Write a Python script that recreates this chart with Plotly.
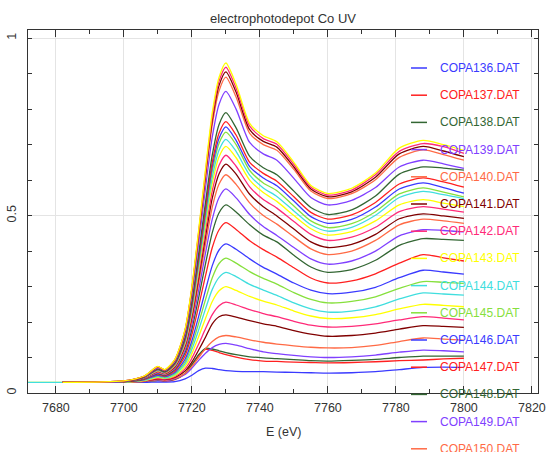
import plotly.graph_objects as go

# Energy grid (eV) shared by all spectra
energy = [7665, 7682, 7700, 7706, 7710, 7712, 7715, 7718, 7720, 7722, 7724, 7726, 7728, 7730,
          7733, 7737, 7741, 7745, 7750, 7755, 7760, 7767, 7774, 7781, 7788, 7794, 7800]

copa136 = [None, .030, .030, .030, .031, .031, .032, .040, .050, .063, .070, .069, .066, .063, .061, .060, .060, .059, .058, .057, .056, .057, .060, .066, .072, .073, .072]
copa137 = [None, .030, .031, .033, .036, .034, .038, .055, .080, .105, .123, .120, .114, .108, .101, .094, .090, .089, .087, .086, .085, .086, .088, .091, .093, .096, .098]
copa138 = [None, .030, .031, .033, .036, .035, .039, .055, .080, .108, .126, .124, .119, .114, .108, .102, .099, .097, .094, .091, .090, .092, .095, .100, .104, .104, .104]
copa139 = [None, .030, .031, .033, .037, .035, .040, .052, .070, .092, .112, .128, .137, .140, .135, .125, .116, .111, .106, .102, .100, .102, .107, .115, .121, .119, .116]
copa140 = [None, .030, .031, .033, .038, .036, .041, .055, .075, .100, .125, .145, .158, .162, .158, .150, .143, .138, .133, .129, .127, .128, .134, .145, .155, .152, .149]
copa141 = [None, .030, .031, .034, .040, .038, .044, .062, .087, .121, .157, .195, .215, .220, .214, .204, .195, .188, .176, .166, .160, .162, .169, .180, .190, .188, .185]
copa142 = [None, .030, .031, .034, .041, .039, .046, .068, .098, .138, .181, .221, .246, .256, .248, .235, .224, .215, .202, .191, .186, .188, .195, .206, .215, .211, .206]
copa143 = [.030, .030, .031, .035, .044, .041, .049, .075, .111, .159, .210, .258, .288, .300, .289, .272, .259, .248, .231, .217, .210, .212, .221, .237, .250, .247, .243]
copa144 = [.030, .030, .031, .036, .046, .042, .052, .082, .123, .178, .237, .292, .326, .340, .328, .306, .290, .275, .254, .237, .228, .231, .243, .265, .282, .279, .276]
copa145 = [None, .030, .031, .037, .048, .044, .055, .088, .135, .197, .263, .325, .365, .380, .366, .342, .323, .307, .283, .264, .254, .258, .271, .295, .314, .312, .309]
copa146 = [None, .030, .032, .038, .050, .046, .058, .095, .147, .216, .290, .359, .403, .420, .405, .378, .354, .335, .310, .290, .280, .284, .298, .325, .346, .341, .335]
copa147 = [None, .030, .032, .039, .053, .048, .062, .105, .165, .245, .330, .410, .460, .480, .461, .429, .404, .383, .353, .324, .310, .316, .336, .366, .390, .381, .372]
copa148 = [None, .030, .032, .040, .055, .050, .066, .114, .180, .269, .364, .452, .508, .530, .510, .474, .445, .426, .388, .355, .340, .348, .374, .416, .435, .433, .430]
copa149 = [None, .030, .032, .041, .057, .052, .069, .121, .194, .290, .394, .490, .551, .575, .550, .503, .469, .444, .410, .378, .363, .372, .400, .443, .460, .458, .454]
copa150 = [None, .030, .032, .042, .059, .053, .072, .128, .206, .310, .420, .524, .589, .615, .588, .536, .500, .476, .440, .406, .390, .400, .430, .474, .490, .485, .478]
copa151 = [None, .030, .032, .042, .061, .055, .074, .133, .215, .324, .440, .549, .618, .645, .617, .560, .525, .499, .462, .426, .410, .419, .447, .491, .505, .499, .492]
copa152 = [None, .030, .033, .043, .062, .056, .076, .137, .222, .336, .457, .570, .642, .670, .639, .581, .545, .521, .483, .447, .430, .439, .467, .511, .525, .518, .510]
copa153 = [None, .030, .033, .043, .063, .057, .078, .141, .230, .348, .474, .591, .666, .695, .663, .600, .565, .540, .500, .463, .445, .455, .485, .530, .545, .535, .525]
copa154 = [None, .030, .033, .044, .064, .057, .079, .144, .236, .357, .487, .608, .685, .715, .681, .614, .578, .554, .513, .474, .456, .467, .501, .551, .568, .559, .548]
copa155 = [None, .030, .033, .044, .065, .058, .081, .148, .242, .367, .500, .625, .704, .735, .700, .627, .592, .570, .527, .485, .466, .477, .511, .561, .578, .566, .553]
copa156 = [None, .030, .033, .044, .066, .059, .082, .150, .246, .374, .510, .638, .718, .750, .712, .638, .606, .584, .541, .497, .478, .489, .524, .575, .592, .579, .563]
copa157 = [None, .030, .033, .045, .067, .059, .083, .153, .251, .381, .520, .650, .733, .765, .727, .650, .619, .597, .553, .509, .490, .502, .537, .589, .606, .595, .580]
copa158 = [None, .030, .033, .045, .068, .060, .085, .157, .258, .393, .537, .671, .757, .790, .747, .667, .635, .615, .569, .523, .503, .516, .555, .617, .637, .634, .628]
copa159 = [None, .030, .033, .046, .071, .063, .089, .167, .276, .422, .577, .722, .814, .850, .800, .706, .674, .656, .605, .551, .530, .543, .579, .637, .656, .646, .633]
copa160 = [None, .030, .034, .047, .073, .064, .092, .174, .288, .441, .604, .756, .852, .890, .834, .732, .700, .684, .630, .569, .548, .562, .601, .664, .685, .672, .656]
copa161 = [None, .030, .034, .047, .074, .065, .093, .176, .293, .448, .614, .769, .867, .905, .848, .742, .709, .693, .637, .575, .553, .567, .608, .674, .695, .682, .666]
copa162 = [None, .030, .034, .048, .074, .065, .094, .178, .296, .454, .622, .779, .879, .918, .859, .752, .717, .701, .644, .580, .558, .572, .615, .681, .703, .694, .675]
copa163 = [None, .030, .034, .048, .075, .066, .095, .180, .300, .460, .630, .790, .890, .930, .870, .760, .725, .708, .650, .585, .562, .577, .620, .690, .712, .700, .684]

series_names = ["COPA136.DAT", "COPA137.DAT", "COPA138.DAT", "COPA139.DAT", "COPA140.DAT",
                "COPA141.DAT", "COPA142.DAT", "COPA143.DAT", "COPA144.DAT", "COPA145.DAT",
                "COPA146.DAT", "COPA147.DAT", "COPA148.DAT", "COPA149.DAT", "COPA150.DAT",
                "COPA151.DAT", "COPA152.DAT", "COPA153.DAT", "COPA154.DAT", "COPA155.DAT",
                "COPA156.DAT", "COPA157.DAT", "COPA158.DAT", "COPA159.DAT", "COPA160.DAT",
                "COPA161.DAT", "COPA162.DAT", "COPA163.DAT"]
series_values = [copa136, copa137, copa138, copa139, copa140, copa141, copa142, copa143,
                 copa144, copa145, copa146, copa147, copa148, copa149, copa150, copa151,
                 copa152, copa153, copa154, copa155, copa156, copa157, copa158, copa159,
                 copa160, copa161, copa162, copa163]

palette = ["#3a3aff", "#ff2020", "#336633", "#8040ff", "#ff6a45",
           "#800000", "#ff2a78", "#ffff00", "#40dede", "#86e03c"]

x_ticks = [7680, 7700, 7720, 7740, 7760, 7780, 7800, 7820]
y_ticks = [0, 0.5, 1]
y_tick_text = ["0", "0.5", "1"]

FONT = "Liberation Sans, Arial, sans-serif"

fig = go.Figure()
for i, (name, vals) in enumerate(zip(series_names, series_values)):
    fig.add_trace(go.Scatter(
        x=energy, y=vals, mode="lines", name=name, showlegend=False,
        line=dict(color=palette[i % len(palette)], width=1.3, shape="spline", smoothing=0.7),
    ))

# plot-area geometry in pixels (used for the hand-made legend)
W, H = 549, 452
ml, mr, mt, mb = 28, 11, 30, 59
pw, ph = W - ml - mr, H - mt - mb

annotations = []
shapes = []
for i, name in enumerate(series_names):
    py = 68 + 27.2 * i
    if py > H + 4:          # entries below the window are not visible in the original
        break
    color = palette[i % len(palette)]
    yp = (H - mb - py) / ph
    shapes.append(dict(type="line", xref="paper", yref="paper",
                       x0=(411 - ml) / pw, x1=(427 - ml) / pw, y0=yp, y1=yp,
                       line=dict(color=color, width=1.5), layer="above"))
    annotations.append(dict(text=name, xref="paper", yref="paper",
                            x=(438 - ml) / pw, y=yp, xanchor="left", yanchor="middle",
                            showarrow=False, font=dict(family=FONT, size=12, color=color)))

annotations.append(dict(text="E (eV)", xref="paper", yref="paper", x=0.5,
                        y=(H - mb - 432) / ph, xanchor="center", yanchor="middle",
                        showarrow=False, font=dict(family=FONT, size=12.5, color="#333")))

fig.update_layout(
    width=W, height=H,
    margin=dict(l=ml, r=mr, t=mt, b=mb),
    paper_bgcolor="white", plot_bgcolor="white",
    title=dict(text="electrophotodepot Co UV", x=0.5, xref="paper", xanchor="center",
               y=1 - 18 / H, yref="container", yanchor="middle",
               font=dict(family=FONT, size=13, color="#333")),
    font=dict(family=FONT, size=12, color="#333"),
    annotations=annotations, shapes=shapes,
)
fig.update_xaxes(
    range=[7671.8, 7821.8], tickmode="array", tickvals=x_ticks, automargin=False,
    ticks="inside", ticklen=7, tickcolor="#333", showline=True, linecolor="#333",
    linewidth=1, mirror="ticks", showgrid=True, gridcolor="#e4e4e4", zeroline=False,
    tickfont=dict(family=FONT, size=12.5, color="#333"), ticklabelstandoff=3,
    minor=dict(dtick=10, tick0=7680, ticks="inside", ticklen=4, tickcolor="#333", showgrid=False),
)
fig.update_yaxes(
    range=[0, 1.023], tickmode="array", tickvals=y_ticks, ticktext=y_tick_text, automargin=False,
    tickangle=-90, ticks="inside", ticklen=4, tickcolor="#333", showline=True,
    linecolor="#333", linewidth=1, mirror="ticks", showgrid=True, gridcolor="#e4e4e4",
    zeroline=False, tickfont=dict(family=FONT, size=12.5, color="#333"), ticklabelstandoff=6,
    minor=dict(dtick=0.1, tick0=0, ticks="inside", ticklen=4, tickcolor="#333", showgrid=False),
)

fig.write_html("out.html", config={"displayModeBar": False},
               post_script="document.body.style.margin='0px';")
